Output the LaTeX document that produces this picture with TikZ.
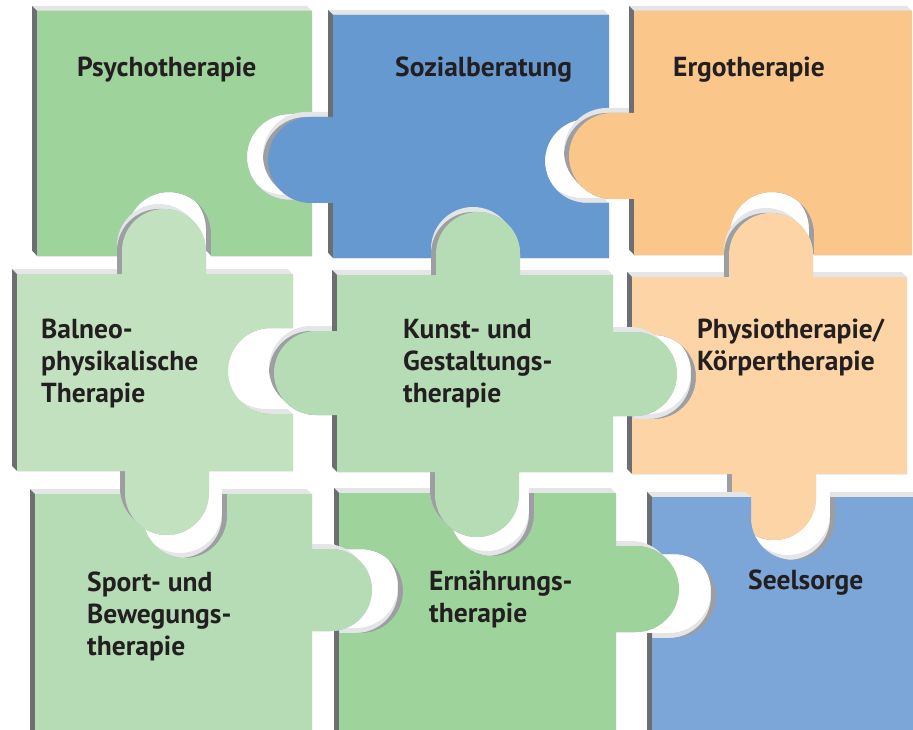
\documentclass[tikz,border=0pt]{standalone}
\usepackage{fontspec}
\setmainfont{PT Sans}
\definecolor{greenA}{HTML}{9ED39C}
\definecolor{blueB}{HTML}{6699CF}
\definecolor{orangeC}{HTML}{FAC68A}
\definecolor{greenD}{HTML}{C2E2BF}
\definecolor{greenE}{HTML}{B5DCB4}
\definecolor{orangeF}{HTML}{FDD4A5}
\definecolor{blueI}{HTML}{7BA6D7}
\definecolor{wallLight}{HTML}{E4E5E6}
\definecolor{wallMid}{HTML}{9D9EA1}
\definecolor{wallDark}{HTML}{6D6E71}
\definecolor{ink}{HTML}{231F20}

% Piece outlines in pixel units (y grows downward); #1,#2 shift the copy left/up.
\newcommand\pieceA[2]{(37-#1,11-#2) -- (312-#1,11-#2) -- (312-#1,114-#2) -- (290-#1,114-#2)
  arc[start angle=270,end angle=90,radius=43] -- (312-#1,200-#2) -- (312-#1,256-#2)
  -- (211-#1,256-#2) -- (211-#1,234-#2) arc[start angle=0,end angle=-180,radius=42]
  -- (127-#1,256-#2) -- (37-#1,256-#2) -- cycle}
\newcommand\pieceB[2]{(333-#1,15-#2) -- (609-#1,15-#2) -- (609-#1,119-#2) -- (587-#1,119-#2)
  arc[start angle=270,end angle=90,radius=42] -- (609-#1,203-#2) -- (609-#1,258-#2)
  -- (333-#1,258-#2) -- (333-#1,203-#2) -- (311-#1,203-#2)
  arc[start angle=90,end angle=270,radius=43] -- (333-#1,117-#2) -- cycle}
\newcommand\pieceC[2]{(634-#1,11-#2) -- (912-#1,11-#2) -- (912-#1,255-#2) -- (814-#1,255-#2)
  -- (814-#1,234-#2) arc[start angle=0,end angle=-180,radius=42] -- (730-#1,255-#2)
  -- (634-#1,255-#2) -- (634-#1,199-#2) -- (612-#1,199-#2)
  arc[start angle=90,end angle=270,radius=43] -- (634-#1,113-#2) -- cycle}
\newcommand\pieceD[2]{(17-#1,274-#2) -- (122-#1,274-#2) -- (122-#1,251-#2)
  arc[start angle=180,end angle=360,radius=42] -- (206-#1,274-#2) -- (293-#1,274-#2)
  -- (293-#1,328-#2) -- (271-#1,328-#2) arc[start angle=270,end angle=90,radius=43]
  -- (293-#1,414-#2) -- (293-#1,471-#2) -- (209-#1,471-#2) -- (209-#1,493-#2)
  arc[start angle=0,end angle=180,radius=42] -- (125-#1,471-#2) -- (17-#1,471-#2) -- cycle}
\newcommand\pieceE[2]{(337-#1,275-#2) -- (436-#1,275-#2) -- (436-#1,254-#2)
  arc[start angle=180,end angle=360,radius=42] -- (520-#1,275-#2) -- (613-#1,275-#2)
  -- (613-#1,332-#2) -- (635-#1,332-#2) arc[start angle=-90,end angle=90,radius=42]
  -- (613-#1,416-#2) -- (613-#1,472-#2) -- (519-#1,472-#2) -- (519-#1,495-#2)
  arc[start angle=0,end angle=180,radius=42] -- (435-#1,472-#2) -- (337-#1,472-#2)
  -- (337-#1,415-#2) -- (316-#1,415-#2) arc[start angle=90,end angle=270,radius=42]
  -- (337-#1,331-#2) -- cycle}
\newcommand\pieceF[2]{(632-#1,277-#2) -- (729-#1,277-#2) -- (729-#1,255-#2)
  arc[start angle=180,end angle=360,radius=42] -- (813-#1,277-#2) -- (907-#1,277-#2)
  -- (907-#1,474-#2) -- (816-#1,474-#2) -- (816-#1,498-#2)
  arc[start angle=0,end angle=180,radius=42] -- (732-#1,474-#2) -- (632-#1,474-#2)
  -- (632-#1,419-#2) -- (654-#1,419-#2) arc[start angle=90,end angle=-90,radius=42]
  -- (632-#1,335-#2) -- cycle}
\newcommand\pieceG[2]{(35-#1,494-#2) -- (143-#1,494-#2) -- (143-#1,516-#2)
  arc[start angle=180,end angle=0,radius=42] -- (227-#1,494-#2) -- (312-#1,494-#2)
  -- (312-#1,549-#2) -- (331-#1,549-#2) arc[start angle=-90,end angle=90,radius=41]
  -- (312-#1,631-#2) -- (312-#1,745-#2) -- (35-#1,745-#2) -- cycle}
\newcommand\pieceH[2]{(339-#1,493-#2) -- (450-#1,493-#2) -- (450-#1,514-#2)
  arc[start angle=180,end angle=0,radius=42] -- (534-#1,493-#2) -- (616-#1,493-#2)
  -- (616-#1,546-#2) -- (636-#1,546-#2) arc[start angle=-90,end angle=90,radius=43]
  -- (616-#1,632-#2) -- (616-#1,745-#2) -- (339-#1,745-#2) -- (339-#1,633-#2)
  -- (361-#1,633-#2) arc[start angle=90,end angle=-90,radius=42] -- (339-#1,549-#2) -- cycle}
\newcommand\pieceI[2]{(652-#1,497-#2) -- (751-#1,497-#2) -- (751-#1,518-#2)
  arc[start angle=180,end angle=0,radius=42] -- (835-#1,497-#2) -- (920-#1,497-#2)
  -- (920-#1,745-#2) -- (652-#1,745-#2) -- (652-#1,638-#2) -- (674-#1,638-#2)
  arc[start angle=90,end angle=-90,radius=42] -- (652-#1,554-#2) -- cycle}

% One extruded piece: #1 outline, #2 face colour, #3 left x, #4 top y, #5 bottom y
\newcommand\drawpiece[5]{%
  \begin{scope}
    \clip \foreach \t in {0,0.5,1,1.5,2,2.5,3,3.5,4,4.5,5} {#1{\t}{\t}};
    \fill[wallLight] (-20,-20) rectangle (940,760);
    \fill[wallMid] \foreach \t in {0.5,1,1.5,2,2.5,3,3.5,4,4.5,5} {#1{\t}{0}};
    \fill[wallDark] (#3-5,#4-5) -- (#3,#4) -- (#3,#5) -- (#3-5,#5) -- cycle;
  \end{scope}
  \fill[#2] #1{0}{0};
}

% labels are placed at the baseline of their last line
\tikzset{label/.style={anchor=base west, inner sep=0pt, align=left, text=ink,
  font=\fontsize{27.5}{32}\selectfont\bfseries}}

\begin{document}
\begin{tikzpicture}[x=1pt, y=-1pt]
  \useasboundingbox (0,0) rectangle (913,730);
  \clip (0,0) rectangle (913,730);

  \drawpiece{\pieceA}{greenA}{37}{11}{256}
  \drawpiece{\pieceB}{blueB}{333}{15}{258}
  \drawpiece{\pieceC}{orangeC}{634}{11}{255}
  \drawpiece{\pieceF}{orangeF}{632}{277}{474}
  \drawpiece{\pieceI}{blueI}{652}{497}{745}
  \drawpiece{\pieceH}{greenA}{339}{493}{745}
  \drawpiece{\pieceG}{greenE}{35}{494}{745}
  \drawpiece{\pieceD}{greenD}{17}{274}{471}
  \drawpiece{\pieceE}{greenE}{337}{275}{472}

  \node[label] (psy) at (77,77) {Psychotherapie};
  \node[label] (soz) at (395,77) {Sozialberatung};
  \node[label] (ergo) at (673,77) {Ergotherapie};
  \node[label] (bal) at (41,402) {Balneo-\\physikalische\\Therapie};
  \node[label] (kunst) at (403,402) {Kunst- und\\Gestaltungs-\\therapie};
  \node[label] (phys) at (697,370) {Physiotherapie/\\Körpertherapie};
  \node[label] (sport) at (87,655) {Sport- und\\Bewegungs-\\therapie};
  \node[label] (ern) at (429,622) {Ernährungs-\\therapie};
  \node[label] (seel) at (748,589) {Seelsorge};
\end{tikzpicture}
\end{document}
